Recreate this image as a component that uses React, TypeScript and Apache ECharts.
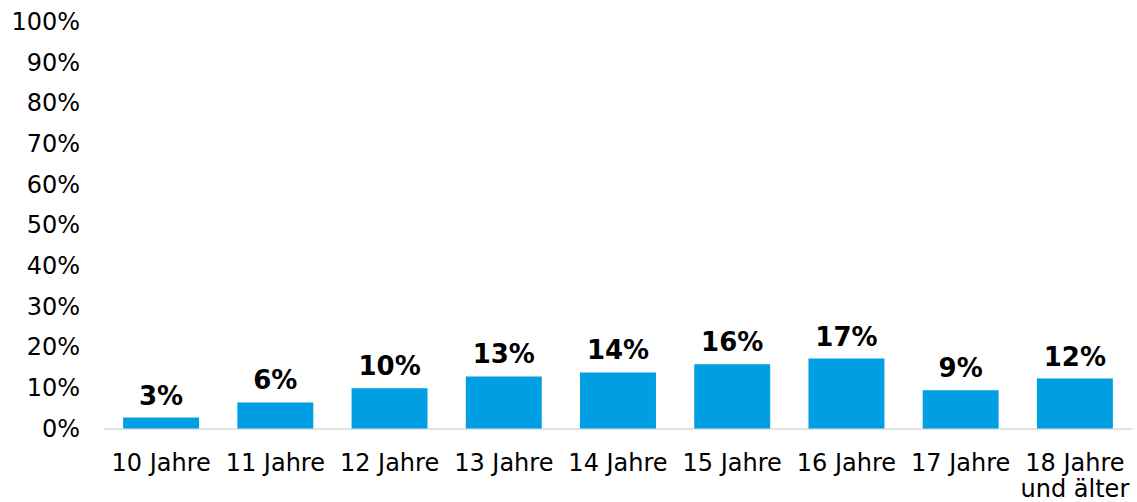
import React, { useEffect, useRef } from "react";
import * as echarts from "echarts";

const categories = [
  "10 Jahre",
  "11 Jahre",
  "12 Jahre",
  "13 Jahre",
  "14 Jahre",
  "15 Jahre",
  "16 Jahre",
  "17 Jahre",
  "18 Jahre\nund älter",
];
const values = [2.7, 6.4, 9.9, 12.8, 13.8, 15.8, 17.2, 9.4, 12.3];
const yMin = 0;
const yMax = 100;
const yInterval = 10;

const FONT = "'DejaVu Sans', Verdana, sans-serif";

export default function App() {
  const ref = useRef<HTMLDivElement>(null);
  useEffect(() => {
    if (!ref.current) return;
    const chart = echarts.init(ref.current, undefined, { renderer: "svg" });
    chart.setOption({
      animation: false,
      backgroundColor: "#ffffff",
      grid: { left: 104, right: 5, top: 22, bottom: 73.5, containLabel: false },
      xAxis: {
        type: "category",
        data: categories,
        axisLine: { show: true, lineStyle: { color: "#d9d9d9", width: 1.5 } },
        axisTick: { show: false },
        axisLabel: {
          color: "#000000",
          fontFamily: FONT,
          fontSize: 24,
          margin: 21,
          lineHeight: 26,
          interval: 0,
        },
      },
      yAxis: {
        type: "value",
        min: yMin,
        max: yMax,
        interval: yInterval,
        splitLine: { show: false },
        axisLine: { show: false },
        axisTick: { show: false },
        axisLabel: {
          color: "#000000",
          fontFamily: FONT,
          fontSize: 24,
          margin: 24,
          formatter: (v: number) => `${v}%`,
        },
      },
      series: [
        {
          type: "bar",
          data: values,
          barCategoryGap: "33.5%",
          itemStyle: { color: "#009fe3" },
          label: {
            show: true,
            position: "top",
            distance: 9,
            color: "#000000",
            fontFamily: FONT,
            fontWeight: "bold",
            fontSize: 26,
            formatter: (p: any) => `${Math.round(p.value)}%`,
          },
        },
      ],
    });
    return () => chart.dispose();
  }, []);
  return (
    <div
      ref={ref}
      style={{ position: "absolute", left: 0, top: 0, width: 1137, height: 502 }}
    />
  );
}
